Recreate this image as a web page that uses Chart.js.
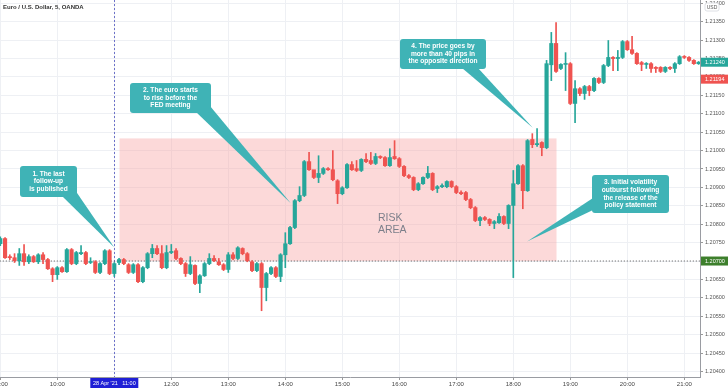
<!DOCTYPE html>
<html><head><meta charset="utf-8">
<script src="https://cdn.jsdelivr.net/npm/chart.js@4/dist/chart.umd.min.js"></script>
<style>html,body{margin:0;padding:0;background:#fff;overflow:hidden}#wrap{width:728px;height:391px;position:relative}</style>
</head><body><div id="wrap"><canvas id="c" width="728" height="391"></canvas></div>
<script>
// ---------- DATA ----------
const chartTitle = "Euro / U.S. Dollar, 5, OANDA";
const hourTicks = [0,12,24,36,48,60,72,84,96,108,120,132,144];
const hourLabels = ["09:00","10:00","11:00","12:00","13:00","14:00","15:00","16:00","17:00","18:00","19:00","20:00","21:00"];
const priceTicks = [1.2040,1.2045,1.2050,1.2055,1.2060,1.2065,1.2070,1.2075,1.2080,1.2085,1.2090,1.2095,1.2100,1.2105,1.2110,1.2115,1.2120,1.2125,1.2130,1.2135,1.2140];
const open = [1.20747,1.20761,1.20712,1.20709,1.20701,1.20720,1.20698,1.20712,1.20698,1.20717,
1.20704,1.20679,1.20663,1.20682,1.20671,1.20731,1.20693,1.20720,1.20723,1.20696,
1.20698,1.20669,1.20693,1.20728,1.20666,1.20696,1.20704,1.20690,1.20669,1.20690,
1.20644,1.20682,1.20720,1.20734,1.20720,1.20682,1.20723,1.20728,1.20707,1.20693,
1.20666,1.20688,1.20639,1.20660,1.20693,1.20707,1.20698,1.20690,1.20677,1.20717,
1.20707,1.20734,1.20720,1.20698,1.20674,1.20693,1.20628,1.20666,1.20682,1.20658,
1.20717,1.20747,1.20791,1.20864,1.20878,1.20970,1.20948,1.20927,1.20938,1.20951,
1.20948,1.20918,1.20883,1.20899,1.20962,1.20951,1.20946,1.20976,1.20973,1.20965,
1.20984,1.20981,1.20959,1.20984,1.20978,1.20957,1.20932,1.20927,1.20894,1.20910,
1.20927,1.20938,1.20897,1.20902,1.20902,1.20916,1.20902,1.20886,1.20886,1.20867,
1.20845,1.20810,1.20818,1.20813,1.20802,1.20804,1.20821,1.20802,1.20851,1.20910,
1.20959,1.20891,1.21030,1.21016,1.21022,1.21008,1.21233,1.21291,1.21223,1.21234,
1.21236,1.21128,1.21168,1.21155,1.21174,1.21163,1.21196,1.21185,1.21231,1.21253,
1.21250,1.21253,1.21296,1.21274,1.21264,1.21239,1.21234,1.21236,1.21226,1.21226,
1.21215,1.21226,1.21223,1.21236,1.21255,1.21253,1.21245,1.21236];
const high = [1.20766,1.20764,1.20717,1.20720,1.20734,1.20745,1.20717,1.20715,1.20720,1.20723,
1.20707,1.20682,1.20685,1.20685,1.20734,1.20734,1.20726,1.20742,1.20726,1.20709,
1.20701,1.20696,1.20731,1.20731,1.20696,1.20707,1.20707,1.20693,1.20693,1.20693,
1.20685,1.20723,1.20745,1.20742,1.20742,1.20742,1.20745,1.20734,1.20709,1.20696,
1.20712,1.20690,1.20663,1.20696,1.20720,1.20715,1.20707,1.20693,1.20723,1.20723,
1.20739,1.20736,1.20723,1.20701,1.20696,1.20696,1.20669,1.20685,1.20685,1.20720,
1.20777,1.20794,1.20867,1.20902,1.20973,1.20995,1.20946,1.20986,1.20954,1.20954,
1.21000,1.20921,1.20902,1.20965,1.20970,1.20973,1.20978,1.20992,1.20995,1.20992,
1.20986,1.20984,1.21005,1.21027,1.20981,1.20959,1.20935,1.20929,1.20913,1.20929,
1.20957,1.20940,1.20905,1.20910,1.20918,1.20918,1.20905,1.20891,1.20889,1.20870,
1.20848,1.20821,1.20821,1.20815,1.20810,1.20829,1.20823,1.20853,1.20946,1.20962,
1.20962,1.21030,1.21046,1.21060,1.21024,1.21245,1.21321,1.21348,1.21236,1.21266,
1.21239,1.21190,1.21171,1.21177,1.21177,1.21198,1.21198,1.21234,1.21299,1.21255,
1.21272,1.21299,1.21299,1.21310,1.21266,1.21242,1.21239,1.21239,1.21228,1.21228,
1.21228,1.21228,1.21239,1.21258,1.21258,1.21255,1.21247,1.21242];
const low = [1.20742,1.20707,1.20704,1.20696,1.20688,1.20688,1.20693,1.20696,1.20693,1.20693,
1.20677,1.20644,1.20650,1.20669,1.20669,1.20690,1.20690,1.20717,1.20690,1.20693,
1.20666,1.20666,1.20690,1.20663,1.20658,1.20690,1.20690,1.20666,1.20666,1.20641,
1.20641,1.20679,1.20709,1.20717,1.20679,1.20679,1.20720,1.20704,1.20690,1.20658,
1.20663,1.20636,1.20614,1.20658,1.20690,1.20698,1.20688,1.20674,1.20669,1.20704,
1.20704,1.20717,1.20698,1.20671,1.20671,1.20565,1.20592,1.20663,1.20655,1.20644,
1.20682,1.20745,1.20788,1.20861,1.20875,1.20946,1.20924,1.20913,1.20935,1.20946,
1.20918,1.20856,1.20880,1.20897,1.20946,1.20943,1.20943,1.20967,1.20962,1.20962,
1.20978,1.20957,1.20957,1.20976,1.20954,1.20929,1.20924,1.20891,1.20891,1.20908,
1.20924,1.20891,1.20886,1.20899,1.20899,1.20899,1.20883,1.20880,1.20864,1.20842,
1.20807,1.20796,1.20810,1.20796,1.20788,1.20802,1.20799,1.20788,1.20655,1.20908,
1.20842,1.20889,1.21008,1.21011,1.20986,1.21005,1.21190,1.21212,1.21220,1.21163,
1.21125,1.21076,1.21149,1.21139,1.21149,1.21160,1.21182,1.21182,1.21228,1.21217,
1.21217,1.21250,1.21272,1.21261,1.21234,1.21217,1.21223,1.21212,1.21212,1.21212,
1.21212,1.21220,1.21212,1.21234,1.21250,1.21242,1.21234,1.21234];
const close = [1.20761,1.20709,1.20709,1.20701,1.20720,1.20698,1.20712,1.20698,1.20717,1.20704,
1.20679,1.20663,1.20682,1.20671,1.20731,1.20693,1.20723,1.20723,1.20693,1.20698,
1.20669,1.20693,1.20728,1.20666,1.20693,1.20704,1.20693,1.20669,1.20690,1.20644,
1.20682,1.20720,1.20734,1.20720,1.20682,1.20723,1.20726,1.20707,1.20693,1.20666,
1.20690,1.20639,1.20660,1.20693,1.20707,1.20701,1.20690,1.20677,1.20717,1.20707,
1.20736,1.20720,1.20701,1.20674,1.20693,1.20628,1.20666,1.20682,1.20658,1.20717,
1.20747,1.20791,1.20864,1.20878,1.20970,1.20948,1.20927,1.20938,1.20951,1.20948,
1.20921,1.20883,1.20899,1.20962,1.20948,1.20946,1.20976,1.20970,1.20965,1.20984,
1.20981,1.20959,1.20981,1.20978,1.20957,1.20932,1.20927,1.20894,1.20910,1.20927,
1.20938,1.20894,1.20902,1.20905,1.20916,1.20902,1.20886,1.20883,1.20867,1.20845,
1.20810,1.20818,1.20813,1.20802,1.20807,1.20821,1.20802,1.20851,1.20910,1.20959,
1.20891,1.21027,1.21016,1.21019,1.21008,1.21236,1.21291,1.21215,1.21234,1.21236,
1.21128,1.21168,1.21155,1.21174,1.21163,1.21196,1.21185,1.21231,1.21253,1.21250,
1.21253,1.21296,1.21274,1.21264,1.21236,1.21234,1.21236,1.21223,1.21223,1.21215,
1.21226,1.21223,1.21236,1.21255,1.21253,1.21245,1.21236,1.21240];
const lastPrice = 1.21240;
const redLevel = 1.21194;
const refLevel = 1.20700;
const eventIndex = 24;            // 28 Apr '21 11:00
const eventLabel = "28 Apr '21   11:00";
const riskFrom = 25.1, riskTo = 117.1, riskLow = 1.20700, riskHigh = 1.21033;
const notes = [
  {lines:["1. The last","follow-up","is published"], tipX:24, tipY:1.20737},
  {lines:["2. The euro starts","to rise before the","FED meeting"], tipX:61.2, tipY:1.20856},
  {lines:["3. Initial volatility","outburst following","the release of the","policy statement"], tipX:110.9, tipY:1.20753},
  {lines:["4. The price goes by","more than 40 pips in","the opposite direction"], tipX:112.1, tipY:1.21062}
];

// ---------- COLORS ----------
const UP = '#26a69a', DOWN = '#ef5350', TEAL = '#3fb3b6';
const N = open.length;
const idx = Array.from({length:N},(_,i)=>i);
const candleCol = idx.map(i => close[i] >= open[i] ? UP : DOWN);

const wickData = idx.map(i => ({x:i, y:[low[i], high[i]]}));
const bodyData = idx.map(i => ({x:i, y:[Math.min(open[i],close[i]), Math.max(open[i],close[i])]}));

function rr(ctx,x,y,w,h,r){ctx.beginPath();ctx.moveTo(x+r,y);ctx.lineTo(x+w-r,y);ctx.quadraticCurveTo(x+w,y,x+w,y+r);ctx.lineTo(x+w,y+h-r);ctx.quadraticCurveTo(x+w,y+h,x+w-r,y+h);ctx.lineTo(x+r,y+h);ctx.quadraticCurveTo(x,y+h,x,y+h-r);ctx.lineTo(x,y+r);ctx.quadraticCurveTo(x,y,x+r,y);ctx.closePath();}

const boxes = [
  {x:20,y:166,w:57,h:31, b1:[62,196],b2:[75,190]},
  {x:130,y:83,w:81,h:30, b1:[196,112],b2:[210,106]},
  {x:592,y:175,w:77,h:38, b1:[593,198],b2:[593,210]},
  {x:400,y:39,w:86,h:30, b1:[462,68],b2:[478,68]}
];

const decor = {
  id:'decor',
  beforeDatasetsDraw(chart){
    const {ctx, scales:{x,y}, chartArea:a} = chart;
    ctx.save();
    ctx.fillStyle = 'rgba(247,160,160,0.40)';
    const x1 = x.getPixelForValue(riskFrom), x2 = x.getPixelForValue(riskTo);
    const y1 = y.getPixelForValue(riskHigh), y2 = y.getPixelForValue(riskLow);
    ctx.fillRect(x1,y1,x2-x1,y2-y1);
    const ex = Math.round(x.getPixelForValue(eventIndex))+0.5;
    ctx.strokeStyle = '#6d72c9'; ctx.lineWidth = 1; ctx.setLineDash([2,2]);
    ctx.beginPath(); ctx.moveTo(ex,a.top); ctx.lineTo(ex,a.bottom); ctx.stroke();
    ctx.restore();
  },
  afterDatasetsDraw(chart){
    const {ctx, scales:{x,y}} = chart;
    ctx.save();
    ctx.fillStyle = '#7c7f8a'; ctx.font = '10.5px "Liberation Sans", Arial, sans-serif';
    ctx.textAlign='left'; ctx.textBaseline='alphabetic';
    ctx.fillText('RISK', 378, 221); ctx.fillText('AREA', 378, 233);
    notes.forEach((n,k)=>{
      const b = boxes[k];
      const tx = x.getPixelForValue(n.tipX), ty = y.getPixelForValue(n.tipY);
      ctx.fillStyle = TEAL;
      ctx.beginPath(); ctx.moveTo(b.b1[0],b.b1[1]); ctx.lineTo(tx,ty); ctx.lineTo(b.b2[0],b.b2[1]); ctx.closePath(); ctx.fill();
      rr(ctx,b.x,b.y,b.w,b.h,3); ctx.fill();
      ctx.fillStyle = '#ffffff'; ctx.font = 'bold 6.6px "Liberation Sans", Arial, sans-serif';
      ctx.textAlign='center'; ctx.textBaseline='middle';
      const lh = 7.6, cy = b.y + b.h/2 - (n.lines.length-1)*lh/2;
      n.lines.forEach((t,j)=>ctx.fillText(t, b.x+b.w/2, cy+j*lh));
    });
    ctx.restore();
  },
  afterDraw(chart){
    const {ctx, scales:{x,y}, chartArea:a} = chart;
    ctx.save();
    ctx.fillStyle = '#333'; ctx.font = 'bold 6px "Liberation Sans", Arial, sans-serif';
    ctx.textAlign='left'; ctx.textBaseline='middle';
    ctx.fillText(chartTitle, 3, 7.5);
    const lab = (v, col) => {
      const py = y.getPixelForValue(v);
      ctx.fillStyle = col; ctx.fillRect(a.right+1, py-4.5, 27, 9);
      ctx.fillStyle = '#fff'; ctx.font = '5.5px "Liberation Sans", Arial, sans-serif';
      ctx.textAlign='left'; ctx.textBaseline='middle';
      ctx.fillText(v.toFixed(5), a.right+5, py+0.5);
    };
    lab(lastPrice, '#26a69a'); lab(redLevel, '#ef5350'); lab(refLevel, '#3d7f2c');
    ctx.fillStyle='#fff'; ctx.strokeStyle='#d6d8de'; ctx.lineWidth=0.8;
    rr(ctx, a.right+5, 3, 14, 8, 2); ctx.fill(); ctx.stroke();
    ctx.fillStyle='#555'; ctx.font='5px "Liberation Sans", Arial, sans-serif'; ctx.textAlign='center';
    ctx.fillText('USD', a.right+12, 7.5);
    const ex = x.getPixelForValue(eventIndex);
    ctx.fillStyle = '#1f1fd6'; ctx.fillRect(ex-24, a.bottom+1, 48, 10);
    ctx.fillStyle = '#fff'; ctx.font='5.5px "Liberation Sans", Arial, sans-serif'; ctx.textAlign='center';
    ctx.fillText(eventLabel, ex, a.bottom+6.5);
    ctx.restore();
  }
};

const gridCol = '#eef0f4';
new Chart(document.getElementById('c'), {
  type:'bar',
  data:{datasets:[
    {type:'line', data:[{x:-2,y:refLevel},{x:150,y:refLevel}], borderColor:'#555', borderWidth:1, borderDash:[1,2], pointRadius:0, order:3},
    {data:wickData, backgroundColor:candleCol, barThickness:1, grouped:false, order:2, borderWidth:0},
    {data:bodyData, backgroundColor:candleCol, barThickness:3.5, grouped:false, minBarLength:1, order:1, borderWidth:0}
  ]},
  options:{
    responsive:false, animation:false, devicePixelRatio:1,
    layout:{padding:0},
    plugins:{legend:{display:false}, tooltip:{enabled:false}},
    scales:{
      x:{type:'linear', position:'bottom', min:-0.063, max:147.3, offset:false,
        afterBuildTicks(s){ s.ticks = hourTicks.map(v=>({value:v})); },
        afterFit(s){ s.height = 14; s.paddingLeft = 0; s.paddingRight = 0; },
        ticks:{callback:(v)=>{const k=hourTicks.indexOf(v); return k>=0?hourLabels[k]:'';}, maxRotation:0, autoSkip:false, padding:1,
          font:{family:'"Liberation Sans", Arial, sans-serif', size:6}, color:'#444'},
        grid:{color:gridCol, tickLength:3, tickColor:'#999', offset:false},
        border:{color:'#9a9ca2'}
      },
      y:{type:'linear', position:'right', min:1.20385, max:1.21409,
        afterBuildTicks(s){ s.ticks = priceTicks.map(v=>({value:v})); },
        afterFit(s){ s.width = 28; s.paddingTop = 0; s.paddingBottom = 0; },
        ticks:{callback:(v)=>v.toFixed(5), padding:2, font:{family:'"Liberation Sans", Arial, sans-serif', size:5.5}, color:'#555'},
        grid:{color:gridCol, tickLength:3, tickColor:'#999'},
        border:{color:'#9a9ca2'}
      }
    }
  },
  plugins:[decor]
});
</script></body></html>
